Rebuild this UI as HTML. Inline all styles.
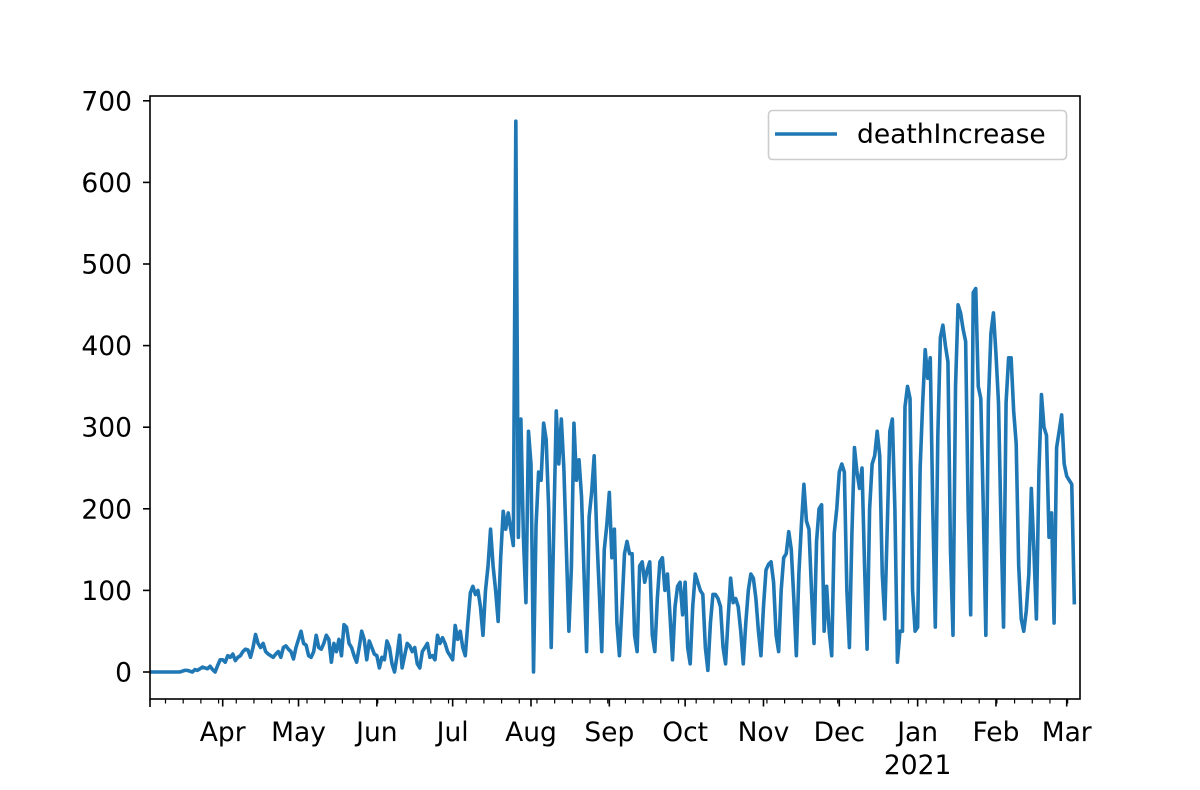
<!DOCTYPE html>
<html><head><meta charset="utf-8"><style>
html,body{margin:0;padding:0;background:#fff;}
svg{display:block;font-family:"DejaVu Sans","Liberation Sans",sans-serif;}
</style></head><body>
<svg id="chart" width="1200" height="790" viewBox="0 0 1200 790">
<defs><clipPath id="clip"><rect x="150" y="96" width="930" height="603"/></clipPath></defs>
<g id="grid-ticks"></g>
<g id="series" clip-path="url(#clip)"></g>
<rect x="150" y="96" width="930" height="603" fill="none" stroke="#000" stroke-width="1.6"/>
<g>
<rect x="768.5" y="110.5" width="298" height="49" rx="4" fill="#fff" fill-opacity="0.8" stroke="#ccc" stroke-width="1.6"/>
<line x1="775" y1="134" x2="837" y2="134" stroke="#1f77b4" stroke-width="3.6"/>
<text x="857" y="143" font-size="26.5">deathIncrease</text>
</g>
</svg>
<script>
const yTicks=[0,100,200,300,400,500,600,700];
const monthLabels=["Apr","May","Jun","Jul","Aug","Sep","Oct","Nov","Dec","Jan","Feb","Mar"];
const monthDayOffsets=[29,59,90,120,151,182,212,243,273,304,335,363];
const marValues=[0,0,0,0,0,0,0,0,0,0,0,0,0,1,2,2,1,0,3,2,4,6,5,4,7,3,0,8,15];
const aprValues=[15,12,20,18,22,14,18,20,25,28,27,18,30,46,35,30,35,25,22,20,18,22,25,18,30,32,28,25,16,30];
const mayValues=[40,50,35,33,20,18,25,45,30,28,35,45,40,12,35,25,40,20,58,55,35,30,20,12,30,50,40,15,38,30,22];
const junValues=[20,5,18,15,38,30,10,0,20,45,5,20,35,32,25,30,10,5,25,30,35,18,20,15,45,35,42,35,25,20];
const laterValues=[15,57,40,50,30,20,60,97,105,95,100,80,45,100,130,175,130,100,62,140,197,175,195,175,155,675,165,310,165,85,295,255,
0,180,245,235,305,285,200,30,175,320,255,310,250,150,50,130,305,235,260,215,120,25,190,220,265,170,100,25,150,180,220,140,175,60,20,80,145,160,145,145,45,25,130,135,110,125,135,45,25,90,135,140,100,120,70,15,80,105,110,70,110,30,10,80,120,110,100,95,30,2,60,95,95,90,80,30,10,65,115,85,90,80,50,10,60,100,120,115,90,50,20,80,125,132,135,110,45,25,100,140,145,172,150,90,20,120,180,230,185,175,100,35,160,200,205,50,105,50,20,170,200,245,255,245,100,30,170,275,245,225,250,130,28,200,255,265,295,265,120,65,180,295,310,200,12,50,50,325,350,335,100,50,55,250,330,395,360,385,200,55,290,410,425,400,380,150,45,350,450,440,420,405,200,70,465,470,350,335,200,45,330,415,440,390,330,180,55,330,385,385,320,280,130,65,50,75,120,225,150,65,245,340,300,290,165,195,60,275,295,315,255,240,235,230,85];
const values=marValues.concat(aprValues,mayValues,junValues,laterValues);

const NS="http://www.w3.org/2000/svg";
const pxPerDay=2.527;
function xScale(d){return 222.7+(d-29)*pxPerDay;}
function yScale(v){return 672-v*0.816;}
function mk(tag,attrs,parent){const e=document.createElementNS(NS,tag);for(const k in attrs)e.setAttribute(k,attrs[k]);parent.appendChild(e);return e;}
const tg=document.getElementById('grid-ticks');
yTicks.forEach(v=>{
  const y=yScale(v);
  const t=mk('line',{x1:143,x2:150,y1:y,y2:y,stroke:'#000','stroke-width':1.6},tg);
  
  
  const l=mk('text',{x:132,y:y+9.5,'text-anchor':'end','font-size':26.5},tg);
  l.textContent=v;
  
  
});
const lt=mk('line',{x1:150,x2:150,y1:699,y2:707,stroke:'#000','stroke-width':1.6},tg);


for(let x=165.5;x<1080;x+=7*pxPerDay){
  const m=mk('line',{x1:x,x2:x,y1:699,y2:703.5,stroke:'#000','stroke-width':1.2},tg);
  
  
}
monthLabels.forEach((lab,i)=>{
  const x=xScale(monthDayOffsets[i]);
  const t=mk('line',{x1:x,x2:x,y1:699,y2:706.5,stroke:'#000','stroke-width':1.6},tg);
  
  
  const l=mk('text',{x:x,y:741,'text-anchor':'middle','font-size':26.5},tg);
  l.textContent=lab;
  
  
  if(lab==="Jan"){
    const yl=mk('text',{x:x,y:774,'text-anchor':'middle','font-size':26.5},tg);
    yl.textContent="2021";
    
    
  }
});
const pts=values.map((v,i)=>xScale(i).toFixed(2)+','+yScale(v).toFixed(2)).join(' ');
const pl=mk('polyline',{points:pts,fill:'none',stroke:'#1f77b4','stroke-width':3.6,'stroke-linejoin':'round','stroke-linecap':'square'},document.getElementById('series'));


</script>
</body></html>
